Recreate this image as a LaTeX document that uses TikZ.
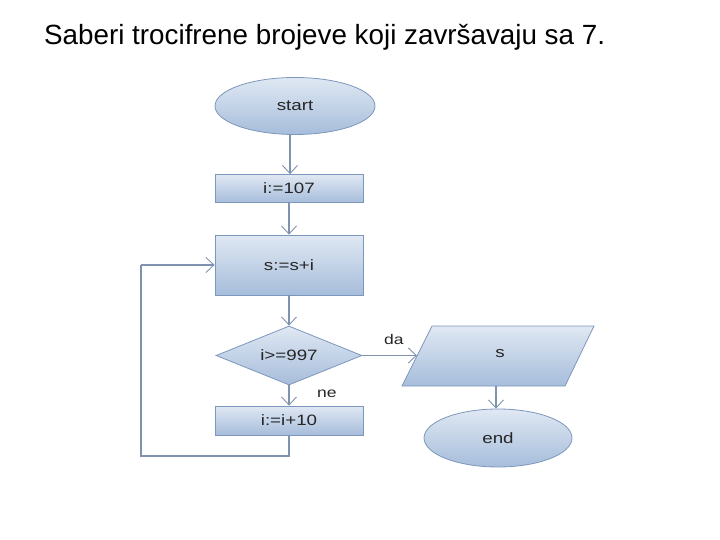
\documentclass[tikz,border=0pt]{standalone}
\usepackage{fontspec}
\setmainfont{Liberation Sans}
\newfontfamily\nodefont[FakeStretch=1.25]{Liberation Sans}
\usetikzlibrary{shapes.geometric,arrows.meta}
\definecolor{lineC}{HTML}{7F93AE}
\definecolor{borderC}{HTML}{7C97BC}
\definecolor{topC}{HTML}{E0E8F3}
\definecolor{botC}{HTML}{A6BDDB}
\tikzset{
  shapebase/.style={draw=borderC, line width=0.8pt, top color=topC, bottom color=botC,
    inner sep=0pt, font=\nodefont\fontsize{15}{17}\selectfont, text=black!85},
  procbox/.style={shapebase, rectangle, minimum width=148pt},
  termbox/.style={shapebase, ellipse},
  decbox/.style={shapebase, diamond, shape aspect=2.47, minimum width=146pt, minimum height=59pt},
  txt/.style={inner sep=0pt, font=\nodefont\fontsize{15}{17}\selectfont, text=black!85},
  conn/.style={draw=lineC, line width=1.6pt, -{Straight Barb[length=8pt,width=15pt,line width=0.9pt]}},
  plain/.style={draw=lineC, line width=1.6pt},
  lbl/.style={font=\nodefont\fontsize{14}{16}\selectfont, text=black!85, inner sep=0pt}
}
\begin{document}
\begin{tikzpicture}[x=1pt,y=-1pt]
\useasboundingbox (0,0) rectangle (720,540);
\node[anchor=base west, font=\fontsize{27.8}{32}\selectfont, inner sep=0pt] (title) at (44,45) {Saberi trocifrene brojeve koji završavaju sa 7.};

\node[termbox, minimum width=160pt, minimum height=57pt] (start) at (295,106) {start};
\node[procbox, minimum height=28pt] (init) at (289,188.5) {i:=107};
\node[procbox, minimum height=60pt] (sum) at (289,265) {s:=s+i};
\node[decbox] (cond) at (289,355.5) {i>=997};
\node[procbox, minimum height=29pt] (inc) at (289,420.5) {i:=i+10};

% parallelogram (output)
\coordinate (p1) at (402,386);
\coordinate (p2) at (565,386);
\coordinate (p3) at (594,326);
\coordinate (p4) at (432,326);
\shade[top color=topC, bottom color=botC] (p1) -- (p2) -- (p3) -- (p4) -- cycle;
\draw[draw=borderC, line width=0.8pt] (p1) -- (p2) -- (p3) -- (p4) -- cycle;
\node[txt] (out) at (500,354) {s};
\coordinate (outW) at (417,355.5);
\coordinate (outS) at (496,386);

\node[termbox, minimum width=148pt, minimum height=58pt] (end) at (498,438) {end};

\coordinate (c1) at (289,456);
\coordinate (c2) at (141,456);
\coordinate (c3) at (141,265);

\draw[conn] (start.south -| 290,0) -- (init.north -| 290,0);
\draw[conn] (init) -- (sum);
\draw[conn] (sum) -- (cond);
\draw[conn] (cond) -- (inc);
\draw[conn] (cond.east) -- (outW);
\draw[conn] (outS) -- (end.north -| outS);
\draw[plain] (inc.south) -- (c1) -- (c2) -- (c3);
\draw[conn] (c3) -- (sum.west);

\node[lbl, anchor=south west] (da) at (384,345) {da};
\node[lbl, anchor=south west] (ne) at (317,398) {ne};
\end{tikzpicture}
\end{document}
